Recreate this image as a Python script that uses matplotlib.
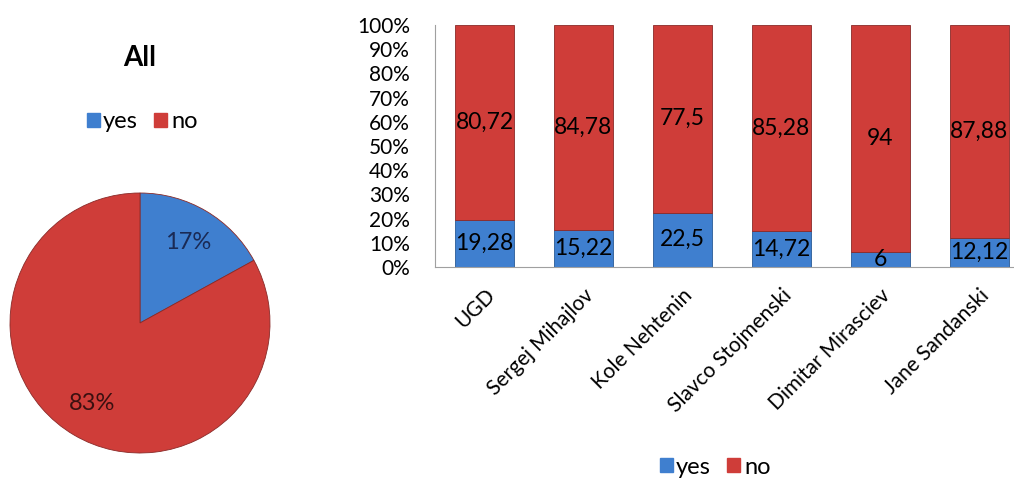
import numpy as np
import matplotlib.pyplot as plt
from matplotlib.patches import Patch

plt.rcParams['font.family'] = ['Lato', 'DejaVu Sans']

# data
pie_labels = ['yes', 'no']
pie_values = [17, 83]

names = ['UGD', 'Sergej Mihajlov', 'Kole Nehtenin', 'Slavco Stojmenski',
         'Dimitar Mirasciev', 'Jane Sandanski']
yes_vals = [19.28, 15.22, 22.5, 14.72, 6, 12.12]
no_vals = [80.72, 84.78, 77.5, 85.28, 94, 87.88]
yes_txt = ['19,28', '15,22', '22,5', '14,72', '6', '12,12']
no_txt = ['80,72', '84,78', '77,5', '85,28', '94', '87,88']

blue = '#3F7FCF'
red = '#CF3D39'
W, H = 1014, 479

fig = plt.figure(figsize=(W / 100, H / 100), dpi=100)

# pie
ax1 = fig.add_axes([10 / W, (H - 453) / H, 260 / W, 260 / H])
wedges, texts, autotexts = ax1.pie(pie_values, colors=[blue, red], startangle=90,
                                   counterclock=False, autopct='%d%%', pctdistance=0.72,
                                   wedgeprops=dict(edgecolor='#8a2a28', linewidth=0.6))
for t in autotexts:
    t.set_fontsize(17)
autotexts[0].set_color('#1a2a55')
autotexts[1].set_color('#3a1010')
ax1.set_xlim(-1, 1)
ax1.set_ylim(-1, 1)
ax1.set_aspect('equal')

fig.text(140 / W, 1 - 58 / H, 'All', ha='center', va='center', fontsize=20, fontweight='bold')
fig.legend([Patch(color=blue), Patch(color=red)], pie_labels,
           loc='center', bbox_to_anchor=(142 / W, 1 - 122 / H), ncol=2, frameon=False,
           fontsize=17, handlelength=0.55, handleheight=0.55, handletextpad=0.15, columnspacing=0.7)

# stacked bars
ax2 = fig.add_axes([435 / W, (H - 267) / H, (W - 435) / W, 242 / H])
x = np.arange(len(names))
bw = 0.59
ax2.bar(x, yes_vals, bw, color=blue, edgecolor='#2a5a95', linewidth=0.6, label='yes')
ax2.bar(x, no_vals, bw, bottom=yes_vals, color=red, edgecolor='#8a2a28', linewidth=0.6, label='no')
for i in range(len(names)):
    ax2.text(x[i], yes_vals[i] / 2, yes_txt[i], ha='center', va='center', fontsize=16.5)
    ax2.text(x[i], yes_vals[i] + no_vals[i] / 2, no_txt[i], ha='center', va='center', fontsize=16.5)

ax2.set_xlim(-0.5, 5.35)
ax2.set_ylim(0, 100)
ax2.set_yticks(np.arange(0, 101, 10))
ax2.set_yticklabels([f'{v}%' for v in range(0, 101, 10)], fontsize=15)
ax2.tick_params(axis='y', length=0, pad=18)
ax2.tick_params(axis='x', length=0, pad=13)
ax2.set_xticks(x)
ax2.set_xticklabels(names, rotation=45, ha='right', rotation_mode='anchor', fontsize=15)
for s in ['top', 'right']:
    ax2.spines[s].set_visible(False)
for s in ['left', 'bottom']:
    ax2.spines[s].set_color('#a0a0a0')

fig.legend([Patch(color=blue), Patch(color=red)], ['yes', 'no'],
           loc='center', bbox_to_anchor=(715 / W, 1 - 467 / H), ncol=2, frameon=False,
           fontsize=17, handlelength=0.55, handleheight=0.55, handletextpad=0.15, columnspacing=0.7)

fig.savefig('out.png', dpi=100)
